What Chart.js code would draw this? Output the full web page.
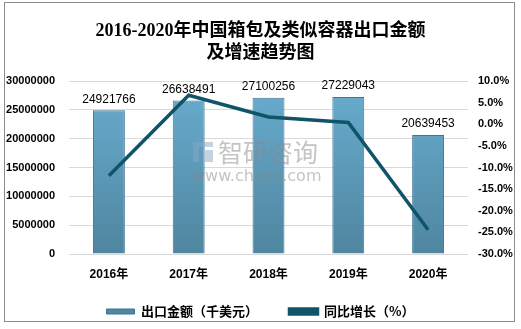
<!DOCTYPE html>
<html>
<head>
<meta charset="utf-8">
<script src="https://cdn.jsdelivr.net/npm/chart.js@4"></script>
<style>
  body { margin: 0; background: #fff; }
  #wrap { position: relative; width: 521px; height: 329px; }
  #frame { position: absolute; left: 4px; top: 2px; width: 511px; height: 320px; border: 1px solid #8c8c8c; box-sizing: border-box; pointer-events: none; }
</style>
</head>
<body>
<div id="wrap">
  <canvas id="grafico" width="521" height="329"></canvas>
  <div id="frame"></div>
</div>
<script>
const anios = ["2016年", "2017年", "2018年", "2019年", "2020年"];
const exportacion = [24921766, 26638491, 27100256, 27229043, 20639453];
const crecimiento = [-11.9, 6.7, 1.7, 0.4, -24.4];
const titulo = ["2016-2020年中国箱包及类似容器出口金额", "及增速趋势图"];

const fuenteTick = "'Liberation Sans', 'Noto Sans CJK SC', sans-serif";

// degradado de las barras
function colorBarra(ctx) {
  const area = ctx.chart.chartArea;
  if (!area) return "#5f9fc0";
  const g = ctx.chart.ctx.createLinearGradient(0, area.top, 0, area.bottom);
  g.addColorStop(0, "#69add0");
  g.addColorStop(1, "#4f86a0");
  return g;
}

// etiquetas encima de las barras
const etiquetas = {
  id: "etiquetas",
  afterDatasetsDraw(chart) {
    const c = chart.ctx;
    const meta = chart.getDatasetMeta(1);
    c.save();
    c.font = "12px " + fuenteTick;
    c.fillStyle = "#000";
    c.textAlign = "center";
    c.textBaseline = "bottom";
    meta.data.forEach((bar, i) => {
      c.fillText(String(exportacion[i]), bar.x, bar.y - 5);
    });
    c.restore();
  }
};

// marca de agua (encima de las barras)
const marca = {
  id: "marca",
  afterDatasetsDraw(chart) {
    const c = chart.ctx;
    c.save();
    c.globalAlpha = 0.5;
    c.fillStyle = "#8aa8c8";
    c.fillRect(193, 142, 6, 20);
    c.fillRect(199, 142, 14, 5);
    c.fillRect(205, 150, 8, 12);
    c.fillStyle = "#8a8a8a";
    c.font = "25px 'Noto Sans CJK SC', sans-serif";
    c.textBaseline = "middle";
    c.fillText("智研咨询", 218, 152);
    c.font = "16px 'DejaVu Sans', sans-serif";
    c.fillText("www.chyxx.com", 192, 177);
    c.restore();
  }
};

new Chart(document.getElementById("grafico"), {
  data: {
    labels: anios,
    datasets: [
      {
        type: "line",
        label: "同比增长（%）",
        data: crecimiento,
        yAxisID: "y1",
        borderColor: "#0f5468",
        backgroundColor: "#0f5468",
        borderWidth: 3.5,
        pointRadius: 0,
        tension: 0,
        order: 0
      },
      {
        type: "bar",
        label: "出口金额（千美元）\u3000\u3000",
        data: exportacion,
        yAxisID: "y",
        backgroundColor: colorBarra,
        borderColor: "#3f7590",
        borderWidth: 1,
        barPercentage: 0.4,
        categoryPercentage: 1,
        order: 1
      }
    ]
  },
  options: {
    responsive: false,
    animation: false,
    layout: { padding: { left: 0, right: 0, top: 0, bottom: 1 } },
    plugins: {
      title: {
        display: true,
        text: titulo,
        color: "#000",
        font: { family: "'Liberation Serif', 'Noto Sans CJK SC', serif", size: 18, weight: "bold", lineHeight: 1.25 },
        padding: { top: 20, bottom: 16 }
      },
      legend: {
        position: "bottom",
        reverse: true,
        labels: {
          color: "#000",
          font: { family: "'Noto Sans CJK SC', sans-serif", size: 13, weight: "bold" },
          boxWidth: 28,
          boxHeight: 5,
          padding: 12
        }
      },
      tooltip: { enabled: false }
    },
    scales: {
      x: {
        afterFit(s) { s.height = 39; },
        grid: { display: false },
        border: { display: false },
        ticks: {
          color: "#000",
          font: { family: fuenteTick, size: 12, weight: "bold" },
          padding: 5
        }
      },
      y: {
        position: "left",
        min: 0,
        max: 30000000,
        afterFit(s) { s.width = 69; },
        grid: { color: "#d9d9d9", drawTicks: false },
        border: { display: false },
        ticks: {
          stepSize: 5000000,
          color: "#000",
          padding: 14,
          font: { family: fuenteTick, size: 11, weight: "bold" },
          callback: v => String(v)
        }
      },
      y1: {
        position: "right",
        min: -30,
        max: 10,
        afterFit(s) { s.width = 53; },
        grid: { display: false, drawTicks: false },
        border: { display: false },
        ticks: {
          stepSize: 5,
          color: "#000",
          padding: 10,
          font: { family: fuenteTick, size: 11, weight: "bold" },
          callback: v => v.toFixed(1) + "%"
        }
      }
    }
  },
  plugins: [marca, etiquetas]
});
</script>
</body>
</html>
